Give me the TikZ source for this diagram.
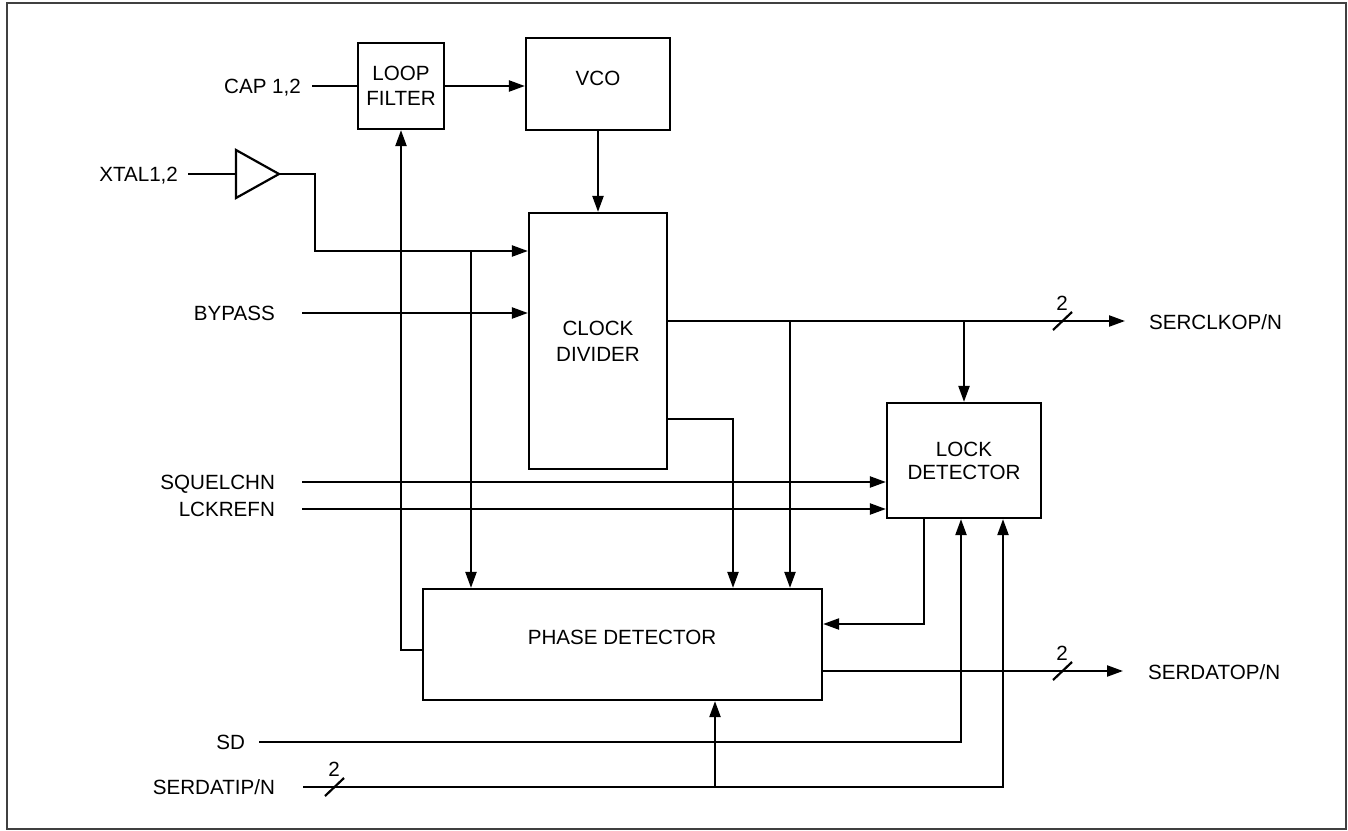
\documentclass[tikz,border=0pt]{standalone}
\usepackage{fontspec}
\setmainfont{Liberation Sans}
\usetikzlibrary{arrows.meta,positioning}

\begin{document}
\begin{tikzpicture}[x=0.5pt,y=-0.5pt,line width=1.1pt,
  font=\fontsize{10.3}{12.4}\selectfont,
  blk/.style={draw,inner sep=0pt,align=center},
  lbl/.style={inner sep=0pt,text height=7.4pt,text depth=0pt},
  >={Triangle[length=8pt,width=5.5pt]}]
\useasboundingbox (0,0) rectangle (1348,830);
\draw[black!75,line width=1pt] (7,3) rectangle (1346,829);
% blocks
\node[blk,minimum width=43pt,minimum height=43pt,font=\fontsize{10.3}{12.5}\selectfont] (lf) at (401,86) {LOOP\\FILTER};
\node[blk,minimum width=72pt,minimum height=46pt] (vco) at (598,84) {};
\node[lbl] (vcotxt) at (598,78) {VCO};
\node[blk,minimum width=69pt,minimum height=128pt,font=\fontsize{10.3}{13}\selectfont] (cd) at (598,341) {CLOCK\\DIVIDER};
\node[blk,minimum width=77pt,minimum height=57.5pt,font=\fontsize{10.3}{11.5}\selectfont] (ld) at (964,460.5) {LOCK\\DETECTOR};
\node[blk,minimum width=199.5pt,minimum height=55.5pt] (pd) at (622.5,644.5) {};
\node[lbl] (pdtxt) at (622,637) {PHASE DETECTOR};
% input buffer
\draw[line join=miter] (236,150) -- (279,174) -- (236,198) -- cycle;
\coordinate (bufin) at (236,174);
\coordinate (bufout) at (279,174);
% pin names
\node[lbl,anchor=east] (cap) at (302,86) {CAP 1,2};
\node[lbl,anchor=east] (xtal) at (179,174) {XTAL1,2};
\node[lbl,anchor=east] (bypass) at (276,313) {BYPASS};
\node[lbl,anchor=east] (squelch) at (276,482) {SQUELCHN};
\node[lbl,anchor=east] (lckref) at (276,509) {LCKREFN};
\node[lbl,anchor=east] (sd) at (246,742) {SD};
\node[lbl,anchor=east] (serdi) at (276,787) {SERDATIP/N};
\node[lbl,anchor=west] (serclk) at (1148,322) {SERCLKOP/N};
\node[lbl,anchor=west] (serdo) at (1147,672) {SERDATOP/N};
\coordinate[right=5pt of cap] (capin);
\coordinate[right=4.5pt of xtal] (xtalin);
\coordinate[right=13pt of bypass] (bypin);
\coordinate[right=13pt of squelch] (sqin);
\coordinate[right=13pt of lckref] (lckin);
\coordinate[right=6.5pt of sd] (sdin);
\coordinate[right=13.5pt of serdi] (sdiin);
\coordinate (xtap) at (471,251);
\coordinate (cktap) at (790,321);
\coordinate (ckout) at (1125,321);
\coordinate (datout) at (1123,671);
\coordinate (ditap) at (715,787);
% connections
\draw (capin) -- (capin -| lf.west);
\draw[->] (lf.east) -- (lf.east -| vco.west);
\draw[->] (vco.south) -- (cd.north);
\draw (xtalin) -- (bufin);
\draw[->] (bufout) -- ++(36,0) |- (xtap) -- (xtap -| cd.west);
\draw[->] (xtap) -- (xtap |- pd.north);
\draw[->] (bypin) -- (bypin -| cd.west);
\draw[->] (cd.east |- ckout) -- (ckout);
\draw[->] (cktap) -- (cktap |- pd.north);
\draw[->] (cktap -| ld.north) -- (ld.north);
\draw[->] (cd.east |- 0,419) -| (733,0 |- pd.north);
\draw[->] (sqin) -- (sqin -| ld.west);
\draw[->] (lckin) -- (lckin -| ld.west);
\draw[->] (924,0 |- ld.south) |- (924,624 -| pd.east);
\draw[->] (0,650 -| pd.west) -| (lf.south);
\draw[->] (pd.east |- datout) -- (datout);
\draw[->] (sdin) -| (961,0 |- ld.south);
\draw[->] (sdiin) -| (1003,0 |- ld.south);
\draw[->] (ditap) -- (ditap |- pd.south);
% bus width marks
\foreach \x/\y in {1062/321,1062/671,334/787}
  {\draw (\x-9,\y+9) -- (\x+10,\y-9);
   \node[lbl] (bus\y) at (\x,\y-18) {2};}
\end{tikzpicture}
\end{document}
